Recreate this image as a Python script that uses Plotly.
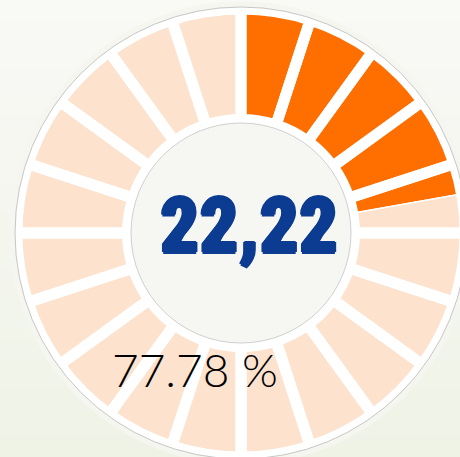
import plotly.graph_objects as go

# ---- data ----
slice_labels = ["Réalisé", "Restant"]
slice_values = [22.22, 77.78]
slice_colors = ["#ff6f00", "#fde2ce"]
n_segments = 20
segment_labels = [f"seg{i + 1}" for i in range(n_segments)]
segment_values = [1] * n_segments

center_text = f"{slice_values[0]:.2f}".replace(".", ",")
rest_text = f"{slice_values[1]:.2f} %"

# ---- geometry (pixels) ----
W, H = 465, 457
ML, MT = 17, 9
S = 448                      # square plot area
R = S / 2                    # pie radius
GAP = 11                     # white gap width
HOLE = (119 - GAP / 2) / R   # inner edge of coloured ring at ~119 px
CX, CY = ML + R, MT + R


def px(xp):
    return (xp - ML) / S


def py(yp):
    return 1 - (yp - MT) / S


def hexmix(c1, c2, t):
    a = [int(c1[i:i + 2], 16) for i in (1, 3, 5)]
    b = [int(c2[i:i + 2], 16) for i in (1, 3, 5)]
    return "#" + "".join(f"{round(a[k] + (b[k] - a[k]) * t):02x}" for k in range(3))


bg_top, bg_bottom = "#f9f9f6", "#eff3e6"

fig = go.Figure()

fig.add_trace(go.Pie(
    labels=slice_labels, values=slice_values, sort=False,
    direction="clockwise", rotation=0, hole=HOLE,
    marker=dict(colors=slice_colors, line=dict(color="white", width=1.5)),
    textinfo="none", hoverinfo="skip", showlegend=False,
))
fig.add_trace(go.Pie(
    labels=segment_labels, values=segment_values, sort=False,
    direction="clockwise", rotation=0, hole=HOLE,
    marker=dict(colors=["rgba(0,0,0,0)"] * n_segments,
                line=dict(color="white", width=GAP)),
    textinfo="none", hoverinfo="skip", showlegend=False,
))

shapes = []
NS = 60
for i in range(NS):
    y0p = i * H / NS
    y1p = (i + 1) * H / NS + 1
    shapes.append(dict(type="rect", xref="paper", yref="paper", layer="below",
                       x0=px(-5), x1=px(W + 5), y0=py(y1p), y1=py(y0p),
                       fillcolor=hexmix(bg_top, bg_bottom, (i + 0.5) / NS),
                       line=dict(width=0)))


def circ(r, **kw):
    return dict(type="circle", xref="paper", yref="paper",
                x0=px(CX - r), x1=px(CX + r), y0=py(CY + r), y1=py(CY - r), **kw)


shapes.append(circ(226, layer="below", fillcolor="white",
                   line=dict(color="#b8b8b8", width=0.8)))
# cover the outer half of the gap stroke beyond the white rim
shapes.append(circ(228.8, layer="above", fillcolor="rgba(0,0,0,0)",
                   line=dict(color="#f4f6ef", width=5.5)))
shapes.append(circ(226, layer="above", fillcolor="rgba(0,0,0,0)",
                   line=dict(color="#b8b8b8", width=0.8)))
# centre disc
shapes.append(circ(110, layer="above", fillcolor="#f6f7f2",
                   line=dict(color="#c4c4c4", width=0.8)))

BLUE = "#0c3c91"
fig.update_layout(
    width=W, height=H, autosize=False,
    margin=dict(l=ML, r=W - ML - S, t=MT, b=H - MT - S, pad=0),
    paper_bgcolor="#f4f6ef",
    shapes=shapes,
    annotations=[
        dict(text=center_text, xref="paper", yref="paper",
             x=px(249), y=py(226), xanchor="center", yanchor="middle",
             showarrow=False,
             font=dict(family="Roboto Condensed, DejaVu Sans Condensed, Roboto, sans-serif",
                       weight=900, size=77, color=BLUE,
                       shadow=f"1.2px 0 0 {BLUE}, -1.2px 0 0 {BLUE}, 0 1.5px 0 {BLUE}, 0 -1.5px 0 {BLUE}")),
        dict(text=rest_text, xref="paper", yref="paper",
             x=px(195), y=py(369), xanchor="center", yanchor="middle",
             showarrow=False,
             font=dict(family="Lato", weight=300, size=46, color="#000000")),
    ],
)

fig.write_html("out.html", config={"displayModeBar": False, "staticPlot": True},
               post_script="document.body.style.margin='0';document.body.style.overflow='hidden';")
